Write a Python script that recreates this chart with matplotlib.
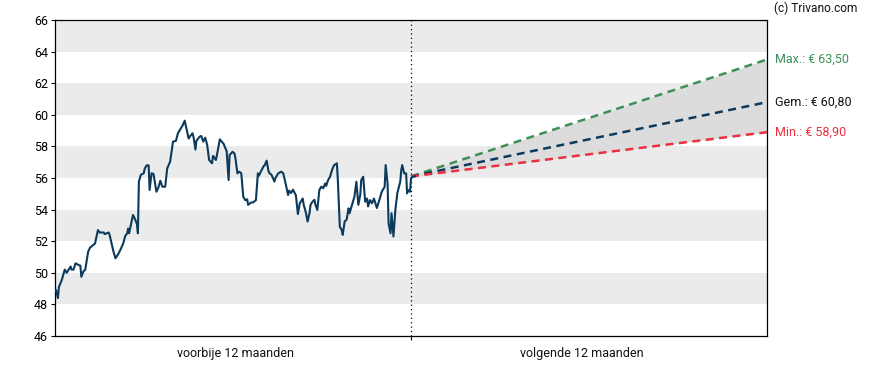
import matplotlib
matplotlib.use("Agg")
import matplotlib.pyplot as plt
import numpy as np

plt.rcParams["font.family"] = ["Roboto", "DejaVu Sans"]

# price history: day offset (0 = today) and close
past_days = [
    -364, -362, -361, -358, -355, -353, -349, -348, -346, -344, -341, -339, -338, -336, -334,
    -331, -329, -326, -324, -321, -319, -315, -314, -310, -309, -307, -305, -303, -300, -298,
    -295, -293, -291, -290, -289, -287, -285, -283, -281, -280, -279, -277, -274, -273, -271,
    -269, -268, -266, -264, -261, -259, -257, -255, -252, -250, -247, -244, -241, -239, -236,
    -234, -232, -231, -228, -227, -224, -223, -221, -220, -217, -215, -213, -211, -209, -207,
    -204, -203, -200, -198, -196, -194, -192, -191, -189, -187, -186, -183, -181, -180, -178,
    -176, -174, -172, -170, -168, -167, -164, -162, -159, -157, -156, -154, -151, -150, -148,
    -146, -145, -143, -140, -139, -136, -133, -131, -129, -126, -125, -123, -121, -118, -116,
    -114, -111, -110, -108, -106, -104, -103, -101, -99, -98, -96, -94, -92, -90, -88,
    -87, -85, -83, -81, -79, -76, -75, -73, -71, -70, -68, -66, -64, -63, -61,
    -58, -56, -54, -52, -51, -49, -47, -45, -44, -42, -40, -38, -35, -34, -32,
    -30, -27, -26, -24, -23, -21, -20, -18, -16, -14, -11, -10, -9, -7, -5,
    -4, -3, -1, 0, 2, 4,
]
past_prices = [
    48.9, 48.4, 49.1, 49.55, 50.2, 50.0, 50.4, 50.2, 50.2, 50.6, 50.5, 50.45, 49.75, 50.07, 50.2,
    51.34, 51.6, 51.75, 51.85, 52.7, 52.55, 52.55, 52.45, 52.55, 52.4, 51.87, 51.33, 50.92, 51.2, 51.45,
    51.87, 52.33, 52.5, 52.8, 52.5, 53.1, 53.66, 53.4, 53.1, 52.5, 55.77, 56.2, 56.3, 56.6, 56.8,
    56.8, 55.24, 56.3, 56.25, 55.13, 55.4, 55.83, 55.45, 55.45, 56.6, 57.03, 58.3, 58.35, 58.83, 59.15,
    59.35, 59.63, 59.35, 58.5, 58.6, 58.83, 58.6, 57.8, 58.35, 58.6, 58.66, 58.3, 58.55, 58.1, 57.14,
    56.93, 57.4, 57.14, 57.77, 58.45, 58.3, 58.15, 57.98, 57.7, 55.87, 57.45, 57.66, 57.55, 57.25, 56.3,
    56.4, 56.3, 54.82, 54.6, 54.65, 54.3, 54.45, 54.45, 54.6, 56.3, 56.14, 56.4, 56.76, 56.8, 57.1,
    56.4, 56.3, 56.2, 55.77, 56.0, 56.3, 56.4, 56.3, 55.77, 54.92, 55.2, 55.05, 55.26, 54.9, 53.72,
    54.4, 54.7, 54.3, 53.87, 53.24, 53.8, 54.3, 54.5, 54.62, 54.3, 53.98, 55.24, 55.45, 55.35, 55.65,
    55.5, 55.87, 56.08, 56.5, 56.8, 56.93, 55.87, 52.92, 52.7, 52.4, 53.25, 53.36, 54.08, 53.77, 54.2,
    54.82, 55.77, 54.3, 54.94, 55.87, 56.08, 54.5, 54.7, 54.2, 54.6, 54.4, 54.7, 54.1, 54.3, 54.7,
    55.13, 55.45, 56.82, 55.65, 53.13, 52.5, 53.77, 52.3, 54.0, 55.05, 55.77, 56.5, 56.82, 56.29, 56.29,
    55.03, 55.24, 55.13, 55.98, 56.08, 56.1,
]

# 12-month outlook
forecast_days = [0, 365]
start_price = 56.10
target_max = 63.50
target_avg = 60.80
target_min = 58.90

y_ticks = list(range(46, 67, 2))
period_labels = ["voorbije 12 maanden", "volgende 12 maanden"]

NAVY = "#0b3a5c"
GREEN = "#3d9058"
RED = "#e8303f"
BAND = "#ebebeb"
FS = 9

fig = plt.figure(figsize=(8.88, 3.70), dpi=100)
ax = fig.add_axes([55 / 888, 34 / 370, 712 / 888, 316 / 370])

ax.set_xlim(-365, 365)
ax.set_ylim(46, 66)

# alternating horizontal bands
for lo in range(48, 66, 4):
    ax.axhspan(lo, lo + 2, color=BAND, lw=0, zorder=0)

# forecast cone
ax.fill_between(forecast_days, [start_price, target_min], [start_price, target_max],
                color="#dcdcdc", lw=0, zorder=1)
ax.plot(forecast_days, [start_price, target_max], color=GREEN, lw=1.8,
        dashes=(3.2, 2.2), zorder=2)
ax.plot(forecast_days, [start_price, target_avg], color=NAVY, lw=1.8,
        dashes=(3.2, 2.2), zorder=2)
ax.plot(forecast_days, [start_price, target_min], color=RED, lw=1.8,
        dashes=(3.2, 2.2), zorder=2)

ax.axvline(0, color="black", lw=0.9, ls=(0, (1, 2.5)), zorder=3)

ax.plot(past_days, past_prices, color=NAVY, lw=1.5, zorder=4, solid_joinstyle="round")

# right-hand labels
for val, name, col in [(target_max, "Max.", GREEN), (target_avg, "Gem.", "#111111"),
                       (target_min, "Min.", RED)]:
    txt = f"{name}: € " + f"{val:.2f}".replace(".", ",")
    ax.annotate(txt, xy=(1, val), xycoords=("axes fraction", "data"),
                xytext=(6, 0), textcoords="offset points", va="center", ha="left",
                color=col, fontsize=FS)

ax.set_yticks(y_ticks)
ax.tick_params(axis="y", length=3, width=0.8, labelsize=FS, pad=2, colors="black")
ax.set_xticks([0])
ax.set_xticklabels([""])
ax.tick_params(axis="x", length=3, width=0.8)

for xf, lab in zip([0.253, 0.740], period_labels):
    ax.text(xf, -0.035, lab, transform=ax.transAxes, ha="center", va="top",
            fontsize=FS, color="#111111")

for sp in ax.spines.values():
    sp.set_linewidth(0.9)
    sp.set_color("black")

fig.text(857 / 888, 1 - 8 / 370, "(c) Trivano.com", ha="right", va="center",
         fontsize=8.6, color="#111111")

fig.savefig("out.png", dpi=100)
